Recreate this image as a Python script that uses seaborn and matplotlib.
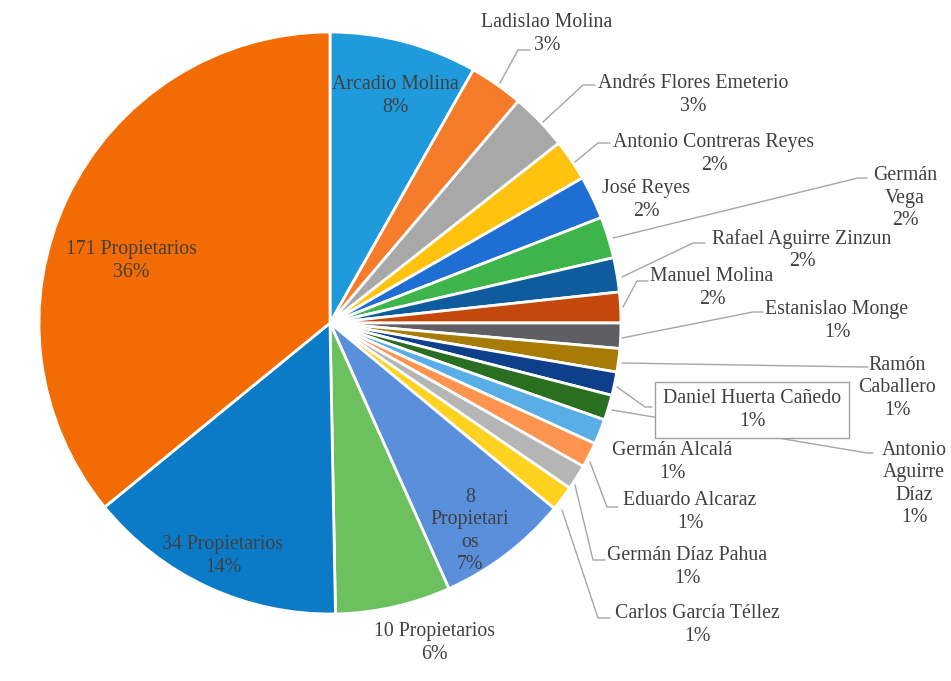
import matplotlib
matplotlib.use("Agg")
import matplotlib.pyplot as plt
import seaborn as sns

# slices, clockwise from 12 o'clock
names = ["Arcadio Molina", "Ladislao Molina", "Andrés Flores Emeterio",
         "Antonio Contreras Reyes", "José Reyes", "Germán Vega",
         "Rafael Aguirre Zinzun", "Manuel Molina", "Estanislao Monge",
         "Ramón Caballero", "Daniel Huerta Cañedo", "Antonio Aguirre Díaz",
         "Germán Alcalá", "Eduardo Alcaraz", "Germán Díaz Pahua",
         "Carlos García Téllez", "8 Propietarios", "10 Propietarios",
         "34 Propietarios", "171 Propietarios"]
values = [8.2, 3.0, 3.2, 2.3, 2.4, 2.3, 1.9, 1.7, 1.4, 1.3, 1.3, 1.4,
          1.4, 1.4, 1.4, 1.4, 7.3, 6.4, 14.4, 35.9]
# how the names are wrapped on the chart
shown = ["Arcadio Molina", "Ladislao Molina", "Andrés Flores Emeterio",
         "Antonio Contreras Reyes", "José Reyes", "Germán\nVega",
         "Rafael Aguirre Zinzun", "Manuel Molina", "Estanislao Monge",
         "Ramón\nCaballero", "Daniel Huerta Cañedo", "Antonio\nAguirre\nDíaz",
         "Germán Alcalá", "Eduardo Alcaraz", "Germán Díaz Pahua",
         "Carlos García Téllez", "8\nPropietari\nos", "10 Propietarios",
         "34 Propietarios", "171 Propietarios"]
colors_hex = ["#1F9BDB", "#F57C2A", "#A8A8A8", "#FFC20E", "#1F6ED4",
              "#3DB54A", "#0E5B9E", "#C4480C", "#5F5F63", "#A87A06",
              "#0D3F8A", "#2A6E22", "#5AAEE6", "#FF9350", "#B5B5B5",
              "#FFD21F", "#5A8FDC", "#6CC05E", "#0B7BC8", "#F26B05"]

sns.set_theme(style="white")
plt.rcParams['font.family'] = ['Liberation Serif', 'DejaVu Serif']

W, H = 951, 681
def px(x, y):
    # image pixel coords (y down) -> axes data coords (y up)
    return (x, H - y)

fig = plt.figure(figsize=(W / 100, H / 100), dpi=100)
ax = fig.add_axes([0, 0, 1, 1])

palette = sns.color_palette(colors_hex)
ax.pie(values, colors=palette, startangle=90, counterclock=False,
       center=px(330, 323), radius=291,
       wedgeprops=dict(edgecolor="white", linewidth=2))
ax.set_xlim(0, W)
ax.set_ylim(0, H)
ax.set_aspect("equal")
ax.axis("off")

total = sum(values)
label_pos = [(395, 96), (547, 34), (693, 95), (714, 154), (646, 200),
             (905, 198), (802, 250), (712, 288), (837, 321), (897, 388),
             (752, 410), (914, 484), (672, 462), (690, 512), (687, 567),
             (697, 625), (470, 531), (434, 643), (223, 556), (131, 261)]

leaders = {
    "Ladislao Molina": [(500, 83), (518, 50), (530, 50)],
    "Andrés Flores Emeterio": [(543, 122), (583, 85), (595, 85)],
    "Antonio Contreras Reyes": [(575, 162), (598, 143), (610, 143)],
    "Germán Vega": [(613, 238), (858, 178), (867, 178)],
    "Rafael Aguirre Zinzun": [(622, 277), (693, 243), (705, 243)],
    "Manuel Molina": [(623, 307), (637, 281), (648, 281)],
    "Estanislao Monge": [(622, 338), (753, 312), (763, 312)],
    "Ramón Caballero": [(622, 363), (862, 367), (868, 367)],
    "Daniel Huerta Cañedo": [(617, 387), (645, 407), (652, 407)],
    "Antonio Aguirre Díaz": [(612, 410), (867, 453), (873, 453)],
    "Eduardo Alcaraz": [(590, 462), (607, 507), (618, 507)],
    "Germán Díaz Pahua": [(575, 485), (593, 560), (605, 560)],
    "Carlos García Téllez": [(562, 510), (598, 618), (610, 618)],
}
for name, pts in leaders.items():
    xs = [p[0] for p in pts]
    ys = [H - p[1] for p in pts]
    ax.plot(xs, ys, color="#A6A6A6", lw=1, zorder=3)

for name, txt, v, (x, y) in zip(names, shown, values, label_pos):
    label = "{}\n{}%".format(txt, round(v / total * 100))
    kw = {}
    if name == "Daniel Huerta Cañedo":
        kw["bbox"] = dict(boxstyle="square,pad=0.4", fc="white",
                          ec="#A0A0A0", lw=1)
    ax.text(*px(x, y), label, ha="center", va="center", fontsize=14.3,
            color="#404040", linespacing=1.22, zorder=5, **kw)

plt.savefig("out.png", dpi=100)
